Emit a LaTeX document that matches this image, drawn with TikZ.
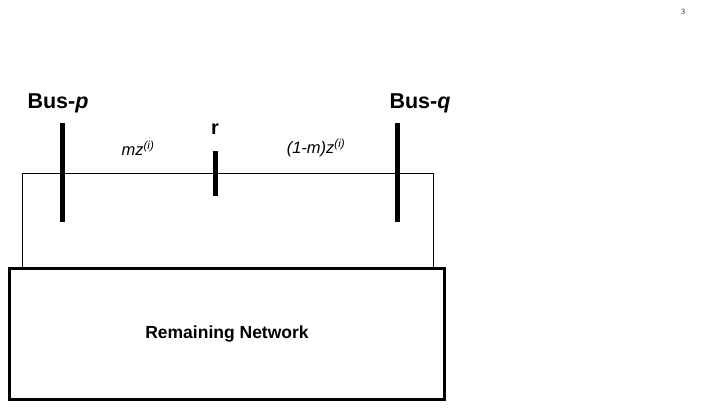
\documentclass[tikz,border=0pt]{standalone}
\usepackage{fontspec}
\setmainfont{Liberation Sans}
\newfontfamily\pagefont{Liberation Serif}
\usetikzlibrary{positioning}
\tikzset{
  bus/.style={line width=5pt},
  wire/.style={line width=0.8pt},
  lbl/.style={font=\fontsize{21.5}{23}\selectfont\bfseries, inner sep=0pt},
  imp/.style={font=\fontsize{16.5}{18}\selectfont\itshape, inner sep=0pt}
}
\begin{document}
\begin{tikzpicture}[x=1pt,y=-1pt]
		\useasboundingbox (0,0) rectangle (703,409);
		\node[font=\fontsize{8}{9}\selectfont\pagefont, inner sep=0pt] (page) at (683,12) {3};
		% bus bars
		\coordinate (p1) at (62,123);
		\coordinate (p2) at (62,222);
		\coordinate (q1) at (397,123);
		\coordinate (q2) at (397,222);
		\coordinate (r1) at (215,151);
		\coordinate (r2) at (215,196);
		\draw[bus] (p1) -- (p2);
		\draw[bus] (q1) -- (q2);
		\draw[bus] (r1) -- (r2);
		\node[lbl] (busp) at (58,103) {Bus-\textit{p}};
		\node[lbl] (busq) at (420,103) {Bus-\textit{q}};
		\node[lbl, font=\fontsize{20}{22}\selectfont\bfseries] (r) at (215,129) {r};
		\node[imp] (zpr) at (138,148) {mz\textsuperscript{(i)}};
		\node[imp] (zrq) at (316,148) {(1-m)z\textsuperscript{(i)}};
		% remaining network
		\node[draw, line width=2.5pt, minimum width=435pt, minimum height=131pt,
		      font=\fontsize{17.5}{19}\selectfont\bfseries] (net) at (227,334) {Remaining Network};
		\coordinate (a) at (22,173);
		\coordinate (b) at (433,173);
		\draw[wire] (a |- net.north) -- (a) -- (b) -- (b |- net.north);
\end{tikzpicture}
\end{document}
